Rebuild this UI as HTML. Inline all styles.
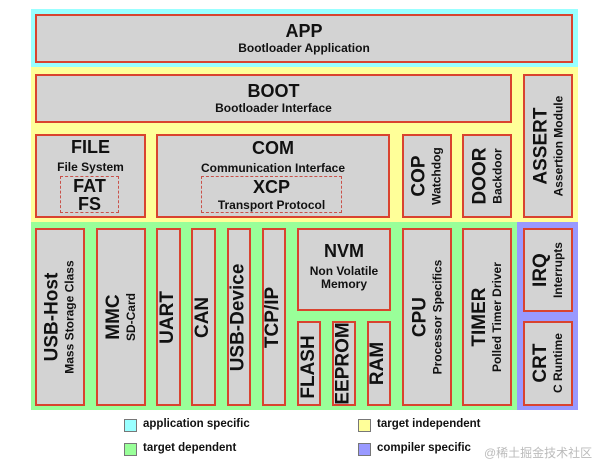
<!DOCTYPE html>
<html><head><meta charset="utf-8"><style>
*{margin:0;padding:0;box-sizing:border-box}
body{width:600px;height:466px;background:#fff;position:relative;overflow:hidden;font-family:"Liberation Sans",Arial,sans-serif;font-weight:bold;color:#111}
.r{position:absolute}
.b{position:absolute;background:#d3d3d3;border:2px solid #d9432f;display:flex;flex-direction:column;align-items:center;justify-content:center;text-align:center;line-height:1.1}
.d{position:absolute;border:1.5px dashed #c9514a;display:flex;flex-direction:column;align-items:center;justify-content:center;text-align:center;line-height:1.0}
.t{font-size:18px}
.s{font-size:12px}
.v{transform:rotate(-90deg);white-space:nowrap;display:flex;flex-direction:column;align-items:center;line-height:1.1}
.v .t{font-size:19px}
.lg{position:absolute;width:13px;height:13px;border:1px solid #777}
.lt{position:absolute;font-size:11.5px}
</style></head><body>
<div class="r" style="left:31px;top:9px;width:547px;height:58px;background:#99ffff"></div>
<div class="r" style="left:31px;top:67px;width:547px;height:155px;background:#ffff99"></div>
<div class="r" style="left:31px;top:222px;width:486px;height:188px;background:#99ff99"></div>
<div class="r" style="left:517px;top:222px;width:61px;height:188px;background:#9999ff"></div>

<div class="b" style="left:35px;top:14px;width:538px;height:49px"><div class="t">APP</div><div class="s">Bootloader Application</div></div>
<div class="b" style="left:35px;top:74px;width:477px;height:49px"><div class="t">BOOT</div><div class="s">Bootloader Interface</div></div>
<div class="b" style="left:523px;top:74px;width:50px;height:144px"><div class="v"><div class="t">ASSERT</div><div class="s">Assertion Module</div></div></div>

<div class="b" style="left:35px;top:134px;width:111px;height:84px;justify-content:flex-start;padding-top:2px"><div class="t">FILE</div><div class="s" style="margin-top:3px">File System</div></div>
<div class="d" style="left:60px;top:176px;width:59px;height:37px"><div class="t">FAT</div><div class="t">FS</div></div>
<div class="b" style="left:156px;top:134px;width:234px;height:84px;justify-content:flex-start;padding-top:3px"><div class="t">COM</div><div class="s" style="margin-top:3px">Communication Interface</div></div>
<div class="d" style="left:201px;top:176px;width:141px;height:37px"><div class="t">XCP</div><div class="s" style="margin-top:3px">Transport Protocol</div></div>
<div class="b" style="left:402px;top:134px;width:50px;height:84px"><div class="v"><div class="t">COP</div><div class="s">Watchdog</div></div></div>
<div class="b" style="left:462px;top:134px;width:50px;height:84px"><div class="v"><div class="t">DOOR</div><div class="s">Backdoor</div></div></div>

<div class="b" style="left:35px;top:228px;width:50px;height:178px"><div class="v"><div class="t">USB-Host</div><div class="s">Mass Storage Class</div></div></div>
<div class="b" style="left:96px;top:228px;width:50px;height:178px"><div class="v"><div class="t">MMC</div><div class="s">SD-Card</div></div></div>
<div class="b" style="left:156px;top:228px;width:25px;height:178px"><div class="v"><div class="t">UART</div></div></div>
<div class="b" style="left:191px;top:228px;width:25px;height:178px"><div class="v"><div class="t">CAN</div></div></div>
<div class="b" style="left:227px;top:228px;width:24px;height:178px"><div class="v"><div class="t">USB-Device</div></div></div>
<div class="b" style="left:262px;top:228px;width:24px;height:178px"><div class="v"><div class="t">TCP/IP</div></div></div>
<div class="b" style="left:297px;top:228px;width:94px;height:83px;justify-content:flex-start;padding-top:12px"><div class="t">NVM</div><div class="s" style="margin-top:3px">Non Volatile<br>Memory</div></div>
<div class="b" style="left:297px;top:321px;width:24px;height:85px;justify-content:flex-end"><div class="v" style="width:24px;justify-content:center;height:24px;margin-bottom:25px"><div class="t">FLASH</div></div></div>
<div class="b" style="left:332px;top:321px;width:24px;height:85px"><div class="v"><div class="t">EEPROM</div></div></div>
<div class="b" style="left:367px;top:321px;width:24px;height:85px"><div class="v"><div class="t">RAM</div></div></div>
<div class="b" style="left:402px;top:228px;width:50px;height:178px"><div class="v"><div class="t">CPU</div><div class="s">Processor Specifics</div></div></div>
<div class="b" style="left:462px;top:228px;width:50px;height:178px"><div class="v"><div class="t">TIMER</div><div class="s">Polled Timer Driver</div></div></div>
<div class="b" style="left:523px;top:228px;width:50px;height:84px"><div class="v"><div class="t">IRQ</div><div class="s">Interrupts</div></div></div>
<div class="b" style="left:523px;top:321px;width:50px;height:85px"><div class="v"><div class="t">CRT</div><div class="s">C Runtime</div></div></div>

<div class="lg" style="left:124px;top:419px;background:#99ffff"></div>
<div class="lt" style="left:143px;top:418px">application specific</div>
<div class="lg" style="left:124px;top:443px;background:#99ff99"></div>
<div class="lt" style="left:143px;top:442px">target dependent</div>
<div class="lg" style="left:358px;top:419px;background:#ffff99"></div>
<div class="lt" style="left:377px;top:418px">target independent</div>
<div class="lg" style="left:358px;top:443px;background:#9999ff"></div>
<div class="lt" style="left:377px;top:442px">compiler specific</div>
<div class="r" style="left:484px;top:444px;white-space:nowrap;font-size:12px;font-weight:normal;color:#bbb;font-family:'Liberation Sans','Noto Sans CJK SC',sans-serif">@稀土掘金技术社区</div>
</body></html>
